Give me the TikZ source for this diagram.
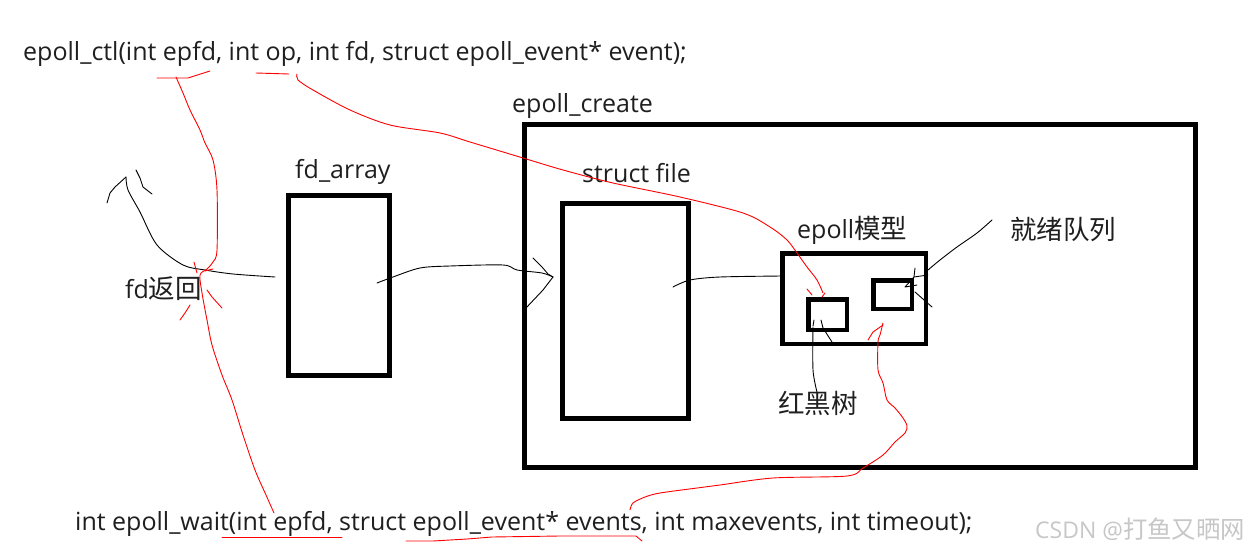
\documentclass[tikz,border=0pt]{standalone}
\usepackage{fontspec}
\setmainfont{Open Sans}
\newfontfamily\cjk[Scale=1.06]{Noto Sans CJK SC}
\begin{document}
\begin{tikzpicture}[x=1pt,y=-1pt,
  box/.style={draw, line width=5pt, inner sep=0pt, outer sep=0pt},
  sbox/.style={draw, line width=4.5pt, inner sep=0pt, outer sep=0pt},
  lbl/.style={font=\fontsize{25}{30}\selectfont, text=black!88, inner sep=0pt, anchor=base west},
  ink/.style={line width=0.9pt, black, line join=round, line cap=round},
  rink/.style={line width=0.9pt, red, line join=round, line cap=round}]
\useasboundingbox (0,0) rectangle (1246,553);
\fill[white] (0,0) rectangle (1246,553);

% boxes
\node[box, minimum width=101pt, minimum height=180pt] (fdarr) at (339,285.5) {};
\node[box, minimum width=671pt, minimum height=343pt] (create) at (860,296) {};
\node[box, minimum width=126pt, minimum height=215pt] (file) at (625.5,311) {};
\node[sbox, minimum width=143.5pt, minimum height=90.5pt] (model) at (854,298.5) {};
\node[sbox, minimum width=38.5pt, minimum height=30.5pt] (rbt) at (827.5,314.5) {};
\node[sbox, minimum width=38.5pt, minimum height=28.5pt] (rdy) at (892.5,294.5) {};

% labels
\node[lbl] (ctl) at (23,61) {epoll\_ctl(int epfd, int op, int fd, struct epoll\_event* event);};
\node[lbl] (lcreate) at (512,113) {epoll\_create};
\node[lbl] (lfd) at (295,179) {fd\_array};
\node[lbl] (lfile) at (582,183) {struct file};
\node[lbl] (lmodel) at (797,238) {epoll{\cjk 模型}};
\node[lbl] (lrdy) at (1010,240) {\cjk 就绪队列};
\node[lbl] (lret) at (125,298) {fd{\cjk 返回}};
\node[lbl] (lrbt) at (778,413) {\cjk 红黑树};
\node[lbl] (wait) at (75,530) {int epoll\_wait(int epfd, struct epoll\_event* events, int maxevents, int timeout);};
\node[lbl, text=black!22, font=\fontsize{23}{27}\selectfont] (wm) at (1035,538) {CSDN @{\cjk 打鱼又晒网}};

% black connectors
\coordinate (a0) at (377,283);
\coordinate (a1) at (553,277);
\draw[ink] plot[smooth] coordinates {(a0) (393,277) (420,268) (450,266) (503,265) (517,270) (542,273) (a1)};
\draw[ink] (533,258) -- (542,267) -- (548,274) -- (a1) -- (543,290) -- (526,308);

\coordinate (b0) at (673,287);
\draw[ink] plot[smooth] coordinates {(b0) (690,280) (720,277) (model.west|-0,276)};

\coordinate (c0) at (275,277);
\coordinate (c1) at (126,177);
\draw[ink] plot[smooth] coordinates {(c0) (233,274) (205,270) (183,265) (157,245) (140,212) (128,190) (c1)};
\draw[ink] (c1) -- (115,187) -- (110,193) -- (107,203);
\draw[ink] (136,170) -- (140,178) -- (143,187) -- (152,194);

\coordinate (d0) at (817,392);
\draw[ink] plot[smooth] coordinates {(d0) (813,370) (813,327)};
\draw[ink] (814,320) -- (813,326);
\draw[ink] (821,320) -- (823,328) -- (832,342);

\coordinate (e0) at (992,220);
\draw[ink] plot[smooth] coordinates {(e0) (977,233) (957,247) (940,260) (928,270)};
\draw[ink] (928,275) -- (914,277);
\draw[ink] (915,268) -- (914,277) -- (905,287) -- (917,285);
\draw[ink] (915,292) -- (932,307);

% red: epfd of epoll_ctl
\draw[rink] (157,78) -- (188,78) -- (210,71);
\coordinate (f0) at (176,77);
\coordinate (f1) at (274,513);
\draw[rink] plot[smooth] coordinates {(f0) (183,93) (190,110) (200,130) (205,143) (213,160) (217,190) (217,250) (213,262) (207,269) (200,275) (202,293) (207,320) (212,345) (222,375) (232,400) (243,435) (255,470) (266,495) (f1)};
\draw[rink] (194,262) -- (197,273);
\draw[rink] (205,271) -- (213,269);
\draw[rink] (207,290) -- (212,297) -- (222,308);
\draw[rink] (190,305) -- (185,313) -- (180,320);
\draw[rink] (222,537) -- (342,537);

% red: op
\draw[rink] (256,73) -- (289,74);
\coordinate (g0) at (297,74);
\coordinate (g1) at (823,293);
\draw[rink] plot[smooth] coordinates {(g0) (298,80) (313,90) (350,110) (390,125) (440,133) (470,142) (523,158) (563,170) (613,183) (680,197) (743,213) (770,227) (787,240) (797,253) (807,267) (817,280) (g1)};
\draw[rink] (807,289) -- (812,295);
\draw[rink] (825,293) -- (822,297);

% red: events
\draw[rink] (406,541) -- (433,541) -- (467,539) -- (492,537) -- (560,536) -- (636,536) -- (642,541);
\coordinate (h0) at (630,510);
\coordinate (h1) at (883,323);
\draw[rink] plot[smooth] coordinates {(h0) (633,503) (645,497) (660,493) (697,488) (720,485) (773,478) (847,476) (863,468) (883,455) (895,442) (905,433) (907,426) (903,418) (895,408) (887,400) (883,383) (878,370) (878,342) (880,335) (h1)};
\draw[rink] (883,325) -- (873,332) -- (868,340);
\end{tikzpicture}
\end{document}
